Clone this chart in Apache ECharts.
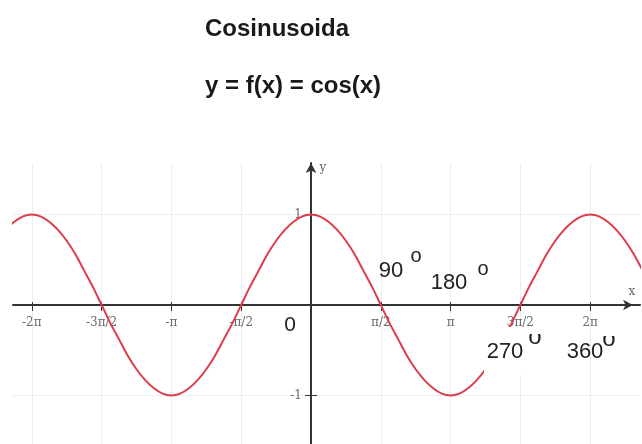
<!DOCTYPE html>
<html>
<head>
<meta charset="utf-8">
<script src="https://cdn.jsdelivr.net/npm/echarts@6/dist/echarts.min.js"></script>
<style>
  html, body { margin: 0; padding: 0; background: #ffffff; }
  #chart { width: 642px; height: 444px; }
</style>
</head>
<body>
<div id="chart"></div>
<script>
// Horizontal positions are expressed in multiples of π.
const xTicks = [-2, -1.5, -1, -0.5, 0.5, 1, 1.5, 2];
const xTickLabels = ['-2π', '-3π/2', '-π', '-π/2', 'π/2', 'π', '3π/2', '2π'];
const yTicks = [-1, 1];
const yTickLabels = ['-1', '1'];

// Points of the cosine curve, every π/16.
const curveX = [
  -2.25, -2.1875, -2.125, -2.0625, -2,
  -1.9375, -1.875, -1.8125, -1.75, -1.6875, -1.625, -1.5625, -1.5,
  -1.4375, -1.375, -1.3125, -1.25, -1.1875, -1.125, -1.0625, -1,
  -0.9375, -0.875, -0.8125, -0.75, -0.6875, -0.625, -0.5625, -0.5,
  -0.4375, -0.375, -0.3125, -0.25, -0.1875, -0.125, -0.0625, 0,
  0.0625, 0.125, 0.1875, 0.25, 0.3125, 0.375, 0.4375, 0.5,
  0.5625, 0.625, 0.6875, 0.75, 0.8125, 0.875, 0.9375, 1,
  1.0625, 1.125, 1.1875, 1.25, 1.3125, 1.375, 1.4375, 1.5,
  1.5625, 1.625, 1.6875, 1.75, 1.8125, 1.875, 1.9375, 2,
  2.0625, 2.125, 2.1875, 2.25, 2.3125, 2.375
];
const curveY = [
  0.71, 0.83, 0.92, 0.98, 1,
  0.98, 0.92, 0.83, 0.71, 0.56, 0.38, 0.2, 0,
  -0.2, -0.38, -0.56, -0.71, -0.83, -0.92, -0.98, -1,
  -0.98, -0.92, -0.83, -0.71, -0.56, -0.38, -0.2, 0,
  0.2, 0.38, 0.56, 0.71, 0.83, 0.92, 0.98, 1,
  0.98, 0.92, 0.83, 0.71, 0.56, 0.38, 0.2, 0,
  -0.2, -0.38, -0.56, -0.71, -0.83, -0.92, -0.98, -1,
  -0.98, -0.92, -0.83, -0.71, -0.56, -0.38, -0.2, 0,
  0.2, 0.38, 0.56, 0.71, 0.83, 0.92, 0.98, 1,
  0.98, 0.92, 0.83, 0.71, 0.56, 0.38
];

// Angle annotations in degrees.
const degreeLabels = ['0', '90', '180', '270', '360'];

const chart = echarts.init(document.getElementById('chart'), null, { renderer: 'canvas' });

// Plot area: 13..640 px wide, 163..444 px tall; the axes cross at (311, 305).
const GRID = { left: 13, right: 2, top: 163, bottom: 0 };
const X_MIN = -2.1347, X_MAX = 2.3567;
const Y_MIN = -1.536, Y_MAX = 1.569;
const X_AXIS_OFFSET = -139;  // lift the horizontal axis from the bottom edge to y = 0
const Y_AXIS_OFFSET = -298;  // shift the vertical axis from the left edge to x = 0

const axisColor = '#333333';
const gridColor = '#eaeef3';
const tickFont = { fontFamily: 'DejaVu Serif', fontSize: 12, color: '#6a6a6a' };

const xLabelMap = {};
xTicks.forEach((v, i) => { xLabelMap[v] = xTickLabels[i]; });
const yLabelMap = {};
yTicks.forEach((v, i) => { yLabelMap[v] = yTickLabels[i]; });

const curve = curveX.map((x, i) => [x, curveY[i]]);

const txt = (text, x, y, size) => ({
  type: 'text', z: 120,
  style: {
    text: text, x: x, y: y,
    font: size + 'px "Liberation Sans", Arial, sans-serif',
    fill: '#222222', align: 'center', verticalAlign: 'middle'
  }
});

chart.setOption({
  animation: false,
  backgroundColor: '#ffffff',
  grid: Object.assign({ containLabel: false, outerBoundsMode: 'none' }, GRID),
  xAxis: [
    {
      type: 'value', min: X_MIN, max: X_MAX,
      position: 'bottom', offset: X_AXIS_OFFSET,
      axisLine: {
        show: true, onZero: false,
        symbol: ['none', 'arrow'], symbolSize: [8, 10], symbolOffset: [0, -7],
        lineStyle: { color: axisColor, width: 2 }
      },
      axisTick: { show: true, length: 6, customValues: xTicks, lineStyle: { color: axisColor, width: 1 } },
      axisLabel: {
        show: true, customValues: xTicks, margin: 12,
        formatter: v => xLabelMap[v] || '',
        fontFamily: tickFont.fontFamily, fontSize: tickFont.fontSize, color: tickFont.color
      },
      splitLine: { show: true, lineStyle: { color: gridColor, width: 1 } }
    },
    {
      type: 'value', min: X_MIN, max: X_MAX,
      position: 'bottom', offset: X_AXIS_OFFSET,
      axisLine: { show: false, onZero: false },
      axisTick: { show: true, inside: true, length: 3, customValues: xTicks, lineStyle: { color: axisColor, width: 1 } },
      axisLabel: { show: false },
      splitLine: { show: false }
    }
  ],
  yAxis: [
    {
      type: 'value', min: Y_MIN, max: Y_MAX,
      position: 'left', offset: Y_AXIS_OFFSET,
      axisLine: {
        show: true, onZero: false,
        symbol: ['none', 'arrow'], symbolSize: [8, 10],
        lineStyle: { color: axisColor, width: 2 }
      },
      axisTick: { show: true, length: 6, customValues: yTicks, lineStyle: { color: axisColor, width: 1 } },
      axisLabel: {
        show: true, customValues: yTicks, margin: 9,
        formatter: v => yLabelMap[v] || '',
        fontFamily: tickFont.fontFamily, fontSize: tickFont.fontSize, color: tickFont.color
      },
      splitLine: { show: true, lineStyle: { color: gridColor, width: 1 } }
    },
    {
      type: 'value', min: Y_MIN, max: Y_MAX,
      position: 'left', offset: Y_AXIS_OFFSET,
      axisLine: { show: false, onZero: false },
      axisTick: { show: true, inside: true, length: 6, customValues: yTicks, lineStyle: { color: axisColor, width: 1 } },
      axisLabel: { show: false },
      splitLine: { show: false }
    }
  ],
  series: [
    {
      type: 'line',
      xAxisIndex: 0, yAxisIndex: 0,
      data: curve,
      smooth: 0.3,
      showSymbol: false,
      clip: true,
      z: 5,
      lineStyle: { color: '#dc3d4a', width: 2 }
    }
  ],
  graphic: [
    // heading
    { type: 'text', z: 120, style: { text: 'Cosinusoida', x: 205, y: 29,
      font: 'bold 24px "Liberation Sans", Arial, sans-serif', fill: '#1a1a1a', align: 'left', verticalAlign: 'middle' } },
    { type: 'text', z: 120, style: { text: 'y = f(x) = cos(x)', x: 205, y: 86,
      font: 'bold 24px "Liberation Sans", Arial, sans-serif', fill: '#1a1a1a', align: 'left', verticalAlign: 'middle' } },
    // axis names
    { type: 'text', z: 120, style: { text: 'y', x: 323, y: 168,
      font: '12px "DejaVu Serif", serif', fill: '#666666', align: 'center', verticalAlign: 'middle' } },
    { type: 'text', z: 120, style: { text: 'x', x: 632, y: 292,
      font: '12px "DejaVu Serif", serif', fill: '#666666', align: 'center', verticalAlign: 'middle' } },
    // white backing behind the 270 annotation
    { type: 'rect', z: 110, shape: { x: 484, y: 327, width: 42, height: 48 }, style: { fill: '#ffffff' } },
    // degree annotations
    txt(degreeLabels[0], 290, 325, 21),
    txt(degreeLabels[1], 391, 271, 22),
    txt('o', 416, 256, 20),
    txt(degreeLabels[2], 449, 283, 22),
    txt('o', 483, 269, 20),
    txt(degreeLabels[3], 505, 352, 22),
    txt('o', 535, 337, 24),
    txt(degreeLabels[4], 585, 352, 22),
    txt('o', 609, 339, 24),
    // the superscripts after 270 and 360 are cut off at the top
    { type: 'rect', z: 130, shape: { x: 527, y: 329, width: 17, height: 5 }, style: { fill: '#ffffff' } },
    { type: 'rect', z: 130, shape: { x: 601, y: 330, width: 17, height: 6 }, style: { fill: '#ffffff' } }
  ]
});
</script>
</body>
</html>
